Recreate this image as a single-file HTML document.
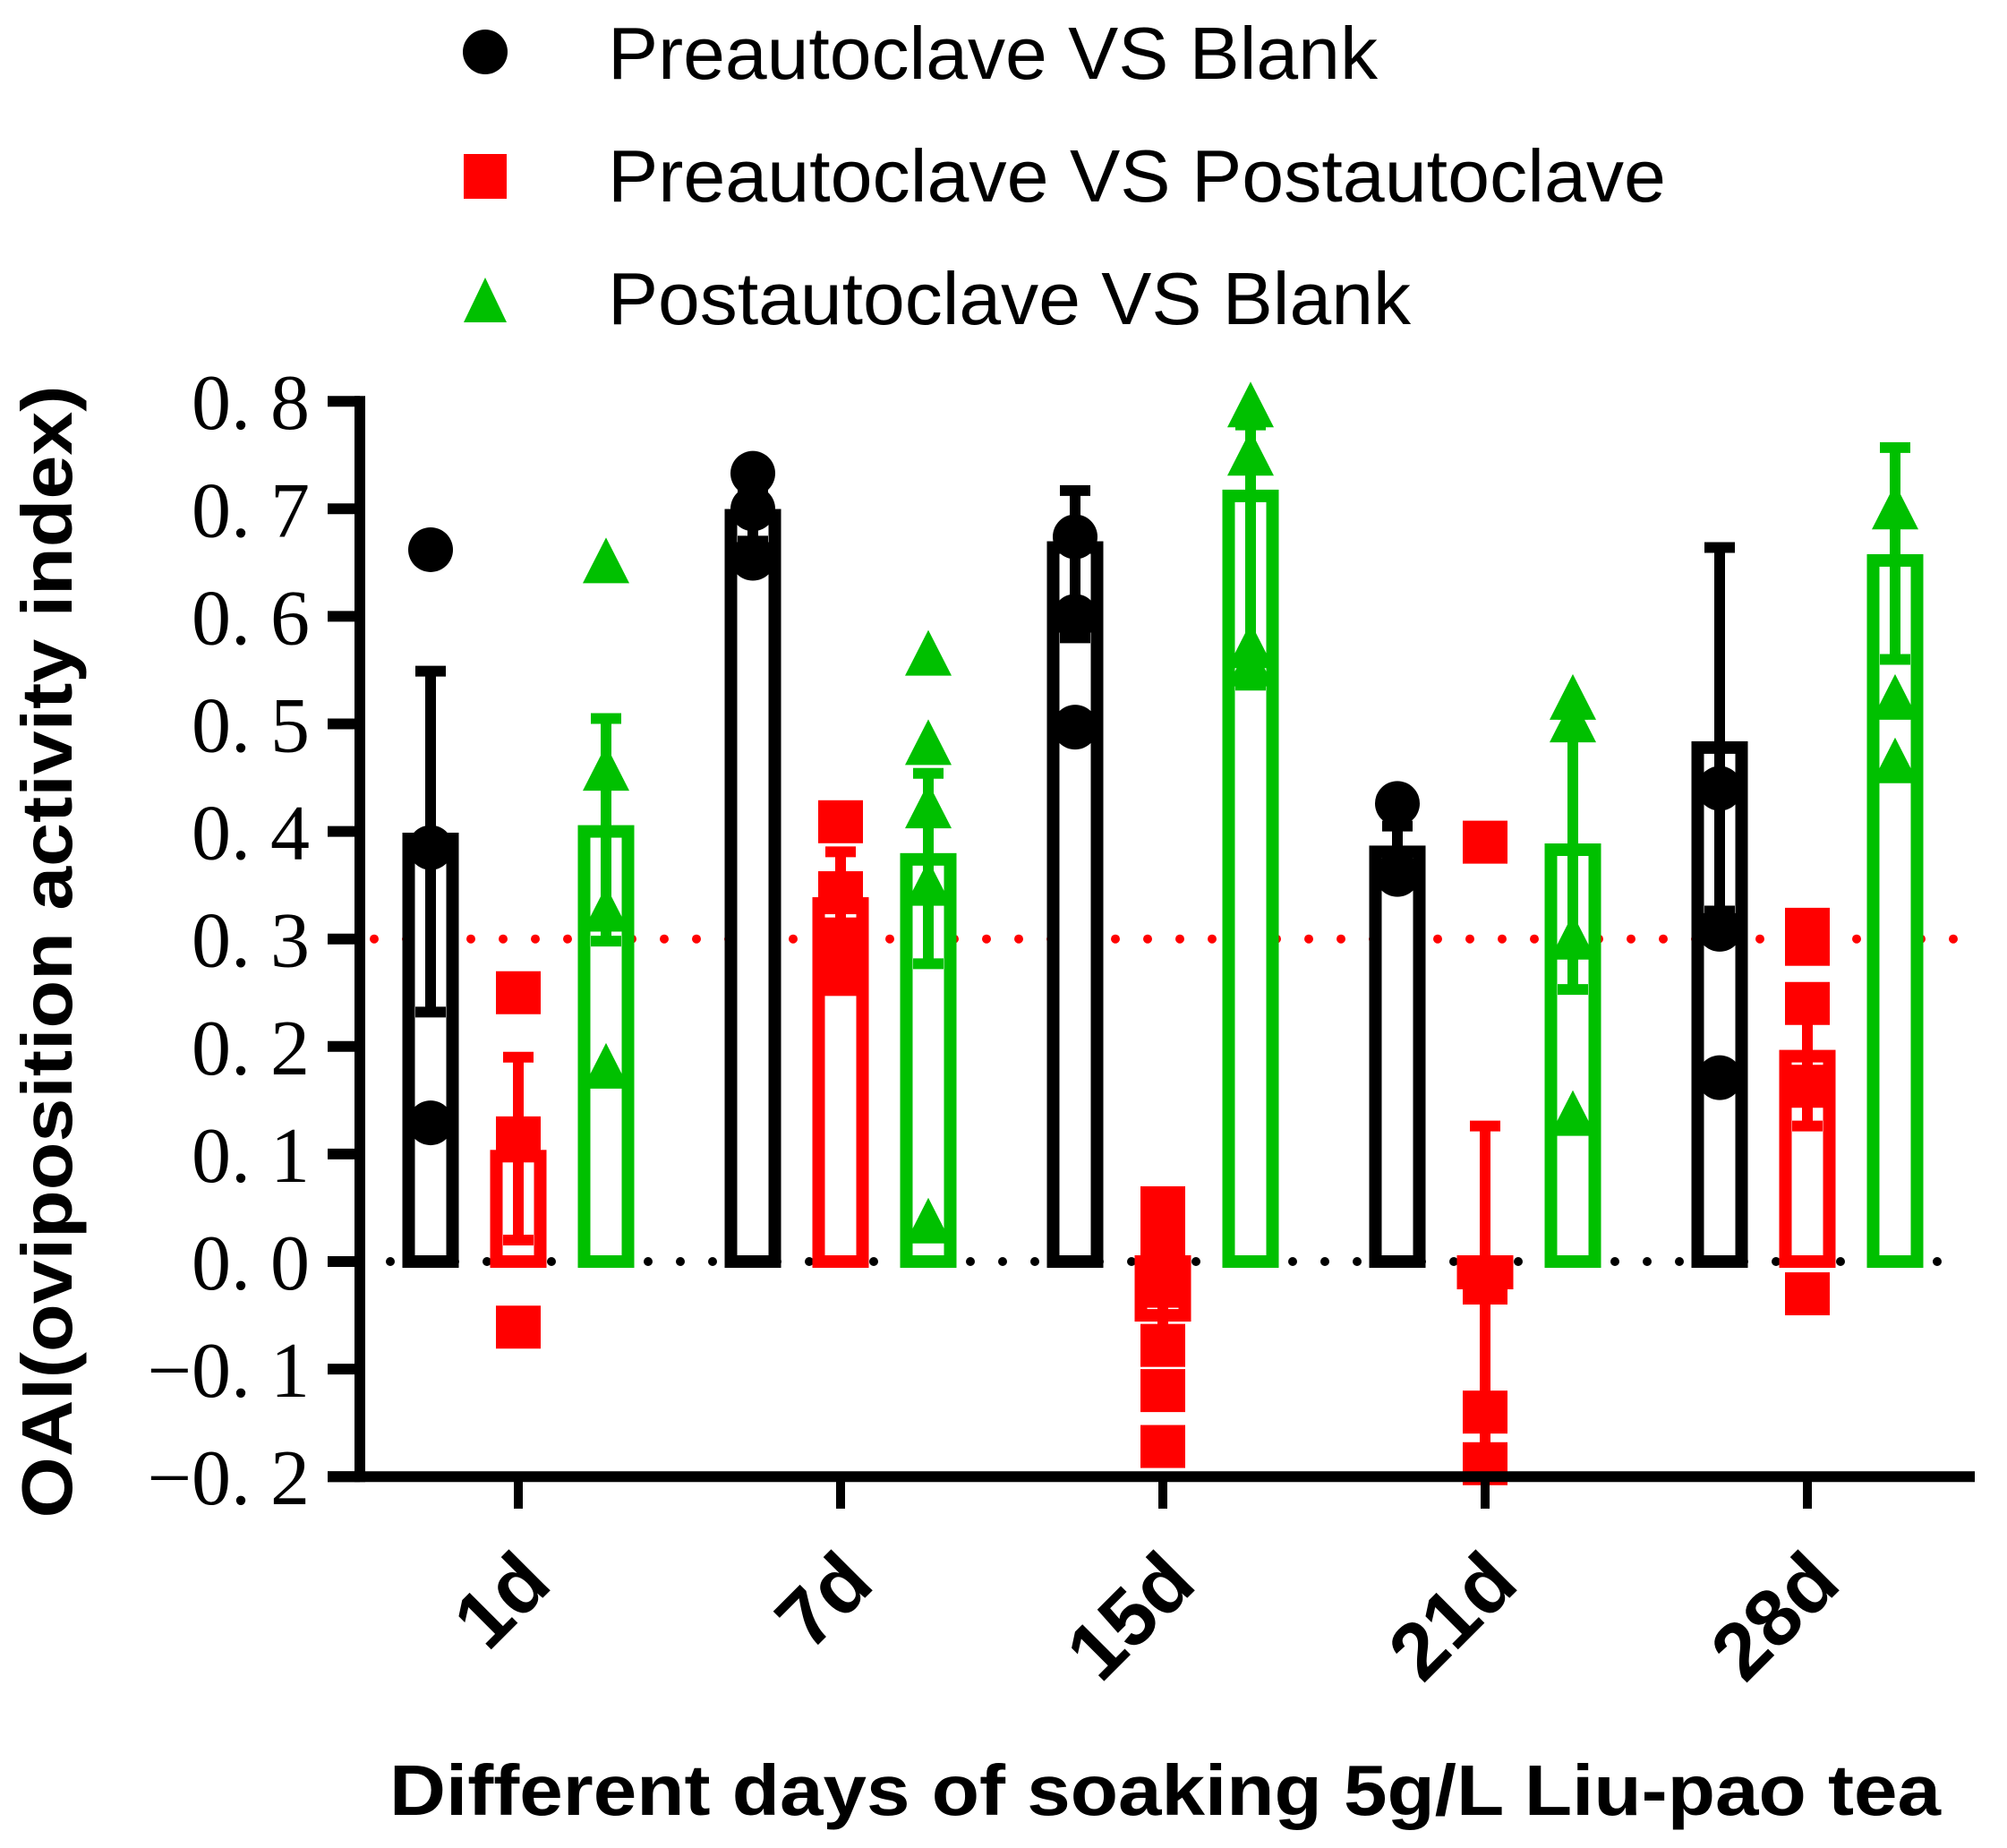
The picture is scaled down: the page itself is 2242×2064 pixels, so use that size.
<!DOCTYPE html>
<html><head><meta charset="utf-8"><style>
html,body{margin:0;padding:0;background:#fff;}
svg{display:block;}
</style></head><body>
<svg id="chart" width="2242" height="2064" viewBox="0 0 2242 2064" xmlns="http://www.w3.org/2000/svg">
<g id="legend">
  <g>
    <circle cx="542" cy="58" r="25" fill="#000"/>
    <text x="679" y="88" font-family="Liberation Sans, sans-serif" font-size="83" textLength="860" lengthAdjust="spacingAndGlyphs">Preautoclave VS Blank</text>
  </g>
  <g>
    <rect x="518" y="172" width="48" height="50" fill="#ff0000"/>
    <text x="679" y="225" font-family="Liberation Sans, sans-serif" font-size="83" textLength="1182" lengthAdjust="spacingAndGlyphs">Preautoclave VS Postautoclave</text>
  </g>
  <g>
    <polygon points="542,310 566,360 518,360" fill="#00c000"/>
    <text x="679" y="362" font-family="Liberation Sans, sans-serif" font-size="83" textLength="897" lengthAdjust="spacingAndGlyphs">Postautoclave VS Blank</text>
  </g>
</g>
<text transform="translate(80,1063) rotate(-90)" text-anchor="middle" font-family="Liberation Sans, sans-serif" font-weight="bold" font-size="80" textLength="1265" lengthAdjust="spacingAndGlyphs">OAI(oviposition activity index)</text>
<text x="435" y="2027" font-family="Liberation Sans, sans-serif" font-weight="bold" font-size="80" textLength="1733" lengthAdjust="spacingAndGlyphs">Different days of soaking 5g/L Liu-pao tea</text>
<g id="plot"></g>
</svg>
<script>
const categories = ['1d','7d','15d','21d','28d'];
const seriesNames = ['Preautoclave VS Blank','Preautoclave VS Postautoclave','Postautoclave VS Blank'];
const yTicks = [-0.2,-0.1,0,0.1,0.2,0.3,0.4,0.5,0.6,0.7,0.8];
const yTickLabels = ['\u22120. 2','\u22120. 1','0. 0','0. 1','0. 2','0. 3','0. 4','0. 5','0. 6','0. 7','0. 8'];
const threshold = 0.3;
// means per series (per category)
const meanBlack = [0.393, 0.694, 0.664, 0.381, 0.478];
const meanRed   = [0.098, 0.333, -0.05, -0.02, 0.191];
const meanGreen = [0.40, 0.374, 0.712, 0.383, 0.652];
// error bar upper / lower
const errHiBlack = [0.549, 0.72, 0.717, 0.405, 0.664];
const errLoBlack = [0.232, 0.67, 0.58, 0.36, 0.326];
const errHiRed   = [0.19, 0.381, -0.015, 0.126, 0.24];
const errLoRed   = [0.02, 0.27, -0.09, -0.188, 0.126];
const errHiGreen = [0.505, 0.454, 0.778, 0.509, 0.757];
const errLoGreen = [0.298, 0.277, 0.536, 0.253, 0.56];
// individual points
const ptsBlack = [[0.662,0.385,0.129],[0.733,0.70,0.654],[0.674,0.60,0.497],[0.426,0.36],[0.44,0.309,0.171]];
const ptsRed   = [[0.25,0.115,-0.061],[0.409,0.343,0.30,0.267],[0.05,0.018,-0.023,-0.078,-0.12,-0.172],[0.39,-0.016,-0.02,-0.14,-0.188],[0.309,0.295,0.24,0.163,-0.03]];
const ptsGreen = [[0.65,0.457,0.326,0.18],[0.564,0.481,0.422,0.35,0.036],[0.795,0.75,0.571,0.554],[0.523,0.502,0.30,0.136],[0.70,0.523,0.464]];

const NS='http://www.w3.org/2000/svg';
const plot=document.getElementById('plot');
const X0=579, XSTEP=360, OFF=98, Y0=1409, YPER=1201;
function xScale(i){return X0+i*XSTEP;}
function yScale(v){return Y0-v*YPER;}
function mk(tag,attrs,parent){const e=document.createElementNS(NS,tag);for(const k in attrs)e.setAttribute(k,attrs[k]);(parent||plot).appendChild(e);return e;}

// reference lines
const refRed=mk('line',{x1:418,x2:2185,y1:yScale(threshold),y2:yScale(threshold),stroke:'#ff0000','stroke-width':10,'stroke-linecap':'round','stroke-dasharray':'0 36'});


const refZero=mk('line',{x1:436,x2:2167,y1:yScale(0),y2:yScale(0),stroke:'#000','stroke-width':10,'stroke-linecap':'round','stroke-dasharray':'0 36'});



const colors=['#000000','#ff0000','#00c000'];
const means=[meanBlack,meanRed,meanGreen];
const his=[errHiBlack,errHiRed,errHiGreen];
const los=[errLoBlack,errLoRed,errLoGreen];
const pts=[ptsBlack,ptsRed,ptsGreen];
const sNames=['preautoclave-vs-blank','preautoclave-vs-postautoclave','postautoclave-vs-blank'];

categories.forEach((c,i)=>{
  for(let s=0;s<3;s++){
    const cx=xScale(i)+(s-1)*OFF;
    const g=mk('g',{});
    
    
    const m=means[s][i];
    const y1=Math.min(yScale(m),yScale(0)), y2=Math.max(yScale(m),yScale(0));
    const bar=mk('rect',{x:cx-24.5,y:y1,width:49,height:Math.max(y2-y1,1),fill:'#fff',stroke:colors[s],'stroke-width':14},g);
    
    
    const eh=yScale(his[s][i]), el=yScale(los[s][i]);
    const err=mk('path',{d:`M${cx},${eh}V${el}M${cx-17},${eh}H${cx+17}M${cx-17},${el}H${cx+17}`,stroke:colors[s],'stroke-width':12,fill:'none'},g);
    
    
    pts[s][i].forEach(v=>{
      const y=yScale(v); let p;
      if(s===0) p=mk('circle',{cx:cx,cy:y,r:25,fill:colors[s]},g);
      else if(s===1) p=mk('rect',{x:cx-25,y:y-24,width:50,height:48,fill:colors[s]},g);
      else p=mk('polygon',{points:`${cx},${y-28} ${cx+26},${y+23} ${cx-26},${y+23}`,fill:colors[s]},g);
      
      
    });
  }
});

// axes
const yAxis=mk('path',{d:`M402,${yScale(0.8)-6}V${yScale(-0.2)+6}`,stroke:'#000','stroke-width':12,fill:'none'});


const xAxis=mk('path',{d:`M366,${yScale(-0.2)}H2206`,stroke:'#000','stroke-width':12,fill:'none'});


yTicks.forEach((t,k)=>{
  const y=yScale(t);
  const tk=mk('line',{x1:366,x2:402,y1:y,y2:y,stroke:'#000','stroke-width':12});
  
  
  const lb=mk('text',{x:346,y:y+31,'text-anchor':'end','font-family':'Liberation Serif, serif','font-size':88});
  lb.textContent=yTickLabels[k];
  
  
});
categories.forEach((c,i)=>{
  const x=xScale(i);
  const tk=mk('line',{x1:x,x2:x,y1:yScale(-0.2),y2:1685,stroke:'#000','stroke-width':10});
  
  
  const lb=mk('text',{transform:`translate(${x+40},1772) rotate(-45)`,'text-anchor':'end','font-family':'Liberation Sans, sans-serif','font-weight':'bold','font-size':90});
  lb.textContent=c;
  
  
});
</script>
</body></html>
